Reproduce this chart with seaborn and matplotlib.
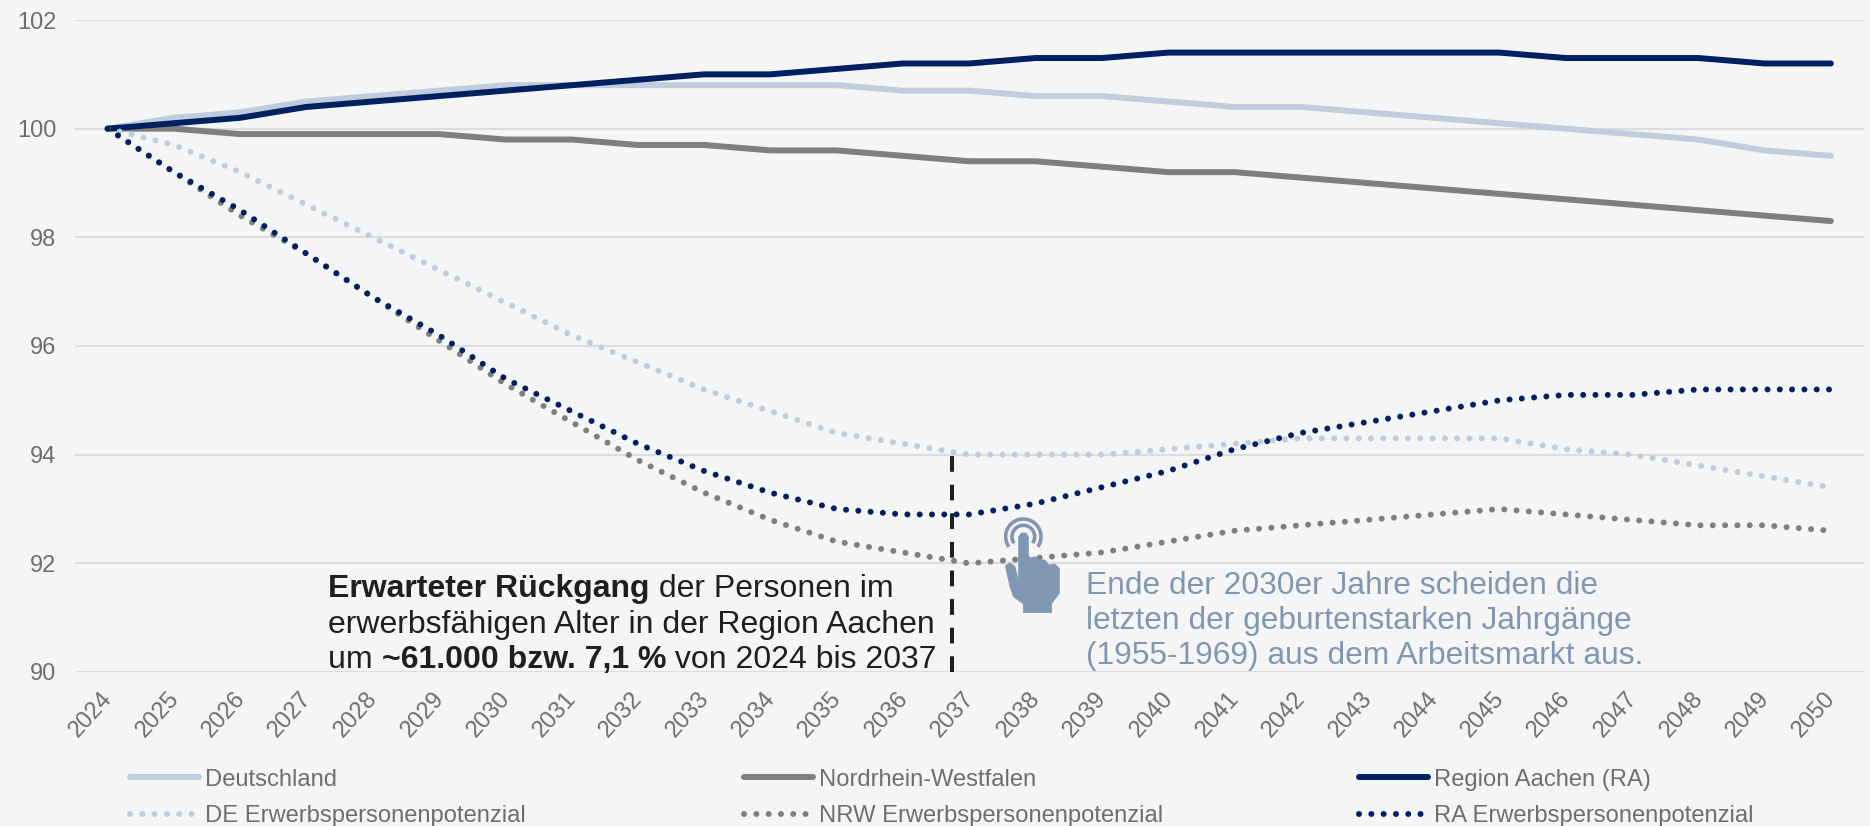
import matplotlib
matplotlib.use('Agg')
import matplotlib.pyplot as plt
from matplotlib.patches import PathPatch
from matplotlib.path import Path
from matplotlib.transforms import Affine2D, ScaledTranslation
import numpy as np
import pandas as pd
import seaborn as sns

years = list(range(2024, 2051))
yticks = [90, 92, 94, 96, 98, 100, 102]

deutschland = [100, 100.2, 100.3, 100.5, 100.6, 100.7, 100.8, 100.8, 100.8, 100.8, 100.8, 100.8, 100.7, 100.7,
               100.6, 100.6, 100.5, 100.4, 100.4, 100.3, 100.2, 100.1, 100.0, 99.9, 99.8, 99.6, 99.5]
nrw = [100, 100, 99.9, 99.9, 99.9, 99.9, 99.8, 99.8, 99.7, 99.7, 99.6, 99.6, 99.5, 99.4,
       99.4, 99.3, 99.2, 99.2, 99.1, 99.0, 98.9, 98.8, 98.7, 98.6, 98.5, 98.4, 98.3]
aachen = [100, 100.1, 100.2, 100.4, 100.5, 100.6, 100.7, 100.8, 100.9, 101, 101, 101.1, 101.2, 101.2,
          101.3, 101.3, 101.4, 101.4, 101.4, 101.4, 101.4, 101.4, 101.3, 101.3, 101.3, 101.2, 101.2]
de_pot = [100, 99.7, 99.2, 98.6, 98.0, 97.4, 96.8, 96.2, 95.7, 95.2, 94.8, 94.4, 94.2, 94.0,
          94.0, 94.0, 94.1, 94.2, 94.3, 94.3, 94.3, 94.3, 94.1, 94.0, 93.8, 93.6, 93.4]
nrw_pot = [100, 99.2, 98.4, 97.7, 96.9, 96.1, 95.3, 94.6, 93.9, 93.3, 92.8, 92.4, 92.2, 92.0,
           92.1, 92.2, 92.4, 92.6, 92.7, 92.8, 92.9, 93.0, 92.9, 92.8, 92.7, 92.7, 92.6]
ra_pot = [100, 99.2, 98.5, 97.7, 96.9, 96.2, 95.4, 94.8, 94.2, 93.7, 93.3, 93.0, 92.9, 92.9,
          93.1, 93.4, 93.7, 94.1, 94.4, 94.6, 94.8, 95.0, 95.1, 95.1, 95.2, 95.2, 95.2]

names = ['Deutschland', 'Nordrhein-Westfalen', 'Region Aachen (RA)',
         'DE Erwerbspersonenpotenzial', 'NRW Erwerbspersonenpotenzial', 'RA Erwerbspersonenpotenzial']
series = [deutschland, nrw, aachen, de_pot, nrw_pot, ra_pot]
colors = ['#bfcddd', '#7f7f7f', '#002060', '#bfcddd', '#7f7f7f', '#002060']

BG = '#f5f5f5'
GREY = '#6e6e6e'
BLUE = '#7f97b2'
W, H = 1870, 826

sns.set_theme(style='white')
plt.rcParams['font.family'] = ['Liberation Sans', 'DejaVu Sans']

fig = plt.figure(figsize=(W / 100, H / 100), dpi=100, facecolor=BG)
ax = fig.add_axes([74.5 / W, 1 - 672 / H, (1864 - 74.5) / W, (672 - 20) / H], facecolor=BG)

df = pd.DataFrame({'year': years})
for n, s in zip(names, series):
    df[n] = s

for i, n in enumerate(names):
    if i < 3:
        sns.lineplot(data=df, x='year', y=n, ax=ax, color=colors[i], label=n, linewidth=4.3,
                     solid_capstyle='round', solid_joinstyle='round', zorder=3 + i)
    else:
        sns.lineplot(data=df, x='year', y=n, ax=ax, color=colors[i], label=n, linewidth=4.3,
                     linestyle=(0, (0.01, 2.05)), dash_capstyle='round', zorder=3 + i)

ax.set_xlim(2023.5, 2050.5)
ax.set_ylim(90, 102)
ax.set_yticks(yticks)
ax.set_xticks(years)
ax.set_xlabel('')
ax.set_ylabel('')
ax.yaxis.grid(True, color='#dddddd', linewidth=1.5)
ax.set_axisbelow(True)
sns.despine(ax=ax, left=True, bottom=True, top=True, right=True)
ax.tick_params(axis='y', length=0, pad=13, labelsize=17, labelcolor=GREY)
ax.tick_params(axis='x', length=0, pad=11, labelsize=17, labelcolor=GREY)
shift = ScaledTranslation(-7 / 100, 0, fig.dpi_scale_trans)
for lab in ax.get_xticklabels():
    lab.set(rotation=48, ha='right', rotation_mode='anchor')
    lab.set_transform(lab.get_transform() + shift)

# dashed marker sits a bit left of the 2037 point in the original
ax.plot([2036.74, 2036.74], [90, 94], color='#1f1f1f', linewidth=2.9, linestyle=(0, (3.9, 3.2)),
        dash_capstyle='butt', zorder=2)

# one legend per column so the columns stay evenly spaced
handles, labels = ax.get_legend_handles_labels()
ax.get_legend().remove()
for col, x in enumerate([130, 744, 1359]):
    leg = fig.legend([handles[col], handles[col + 3]], [labels[col], labels[col + 3]], frameon=False,
                     loc='lower left', bbox_to_anchor=(x / W, 1 - 827 / H), fontsize=17.15, labelcolor=GREY,
                     handlelength=2.88, handletextpad=0.28, labelspacing=0.6, borderpad=0, borderaxespad=0)

# annotation, mixed weights placed one after the other on a shared baseline
NOTE_SIZE = 23
renderer = fig.canvas.get_renderer()
def note(parts, x, y):
    for txt, weight in parts:
        t = fig.text(x / W, 1 - y / H, txt, fontsize=NOTE_SIZE, color='#1f1f1f', fontweight=weight,
                     va='baseline', ha='left')
        x += t.get_window_extent(renderer).width

note([('Erwarteter Rückgang', 'bold'), (' der Personen im', 'normal')], 328, 597)
note([('erwerbsfähigen Alter in der Region Aachen', 'normal')], 328, 633)
note([('um ', 'normal'), ('~61.000 bzw. 7,1 %', 'bold'), (' von 2024 bis 2037', 'normal')], 328, 668)

for line, y in zip(['Ende der 2030er Jahre scheiden die', 'letzten der geburtenstarken Jahrgänge',
                    '(1955-1969) aus dem Arbeitsmarkt aus.'], [594, 629, 664]):
    fig.text(1086 / W, 1 - y / H, line, fontsize=22.9, color=BLUE, va='baseline', ha='left')

# hand icon, outline taken in pixels
to_fig = Affine2D().scale(1 / 3).translate(900, 440).scale(1 / W, -1 / H).translate(0, 1) + fig.transFigure
hand = [(356, 290), (356, 425), (345, 380), (330, 368), (316, 378), (330, 440), (340, 470), (370, 492),
        (370, 518), (455, 518), (455, 490), (478, 460), (478, 385), (465, 372), (447, 375), (435, 360),
        (418, 360), (405, 350), (385, 355), (385, 290), (378, 279), (364, 279), (356, 290)]
fig.add_artist(PathPatch(Path(hand, closed=True), facecolor=BLUE, edgecolor=BLUE, linewidth=0.5,
                         transform=to_fig, zorder=10))
for r in [34, 53]:
    ang = np.radians(np.linspace(-215, 35, 60))
    pts = np.column_stack([370 + r * np.cos(ang), 290 + r * np.sin(ang)])
    fig.add_artist(PathPatch(Path(pts), facecolor='none', edgecolor=BLUE, linewidth=2.6,
                             transform=to_fig, zorder=10))

fig.savefig('out.png', dpi=100, facecolor=BG)
